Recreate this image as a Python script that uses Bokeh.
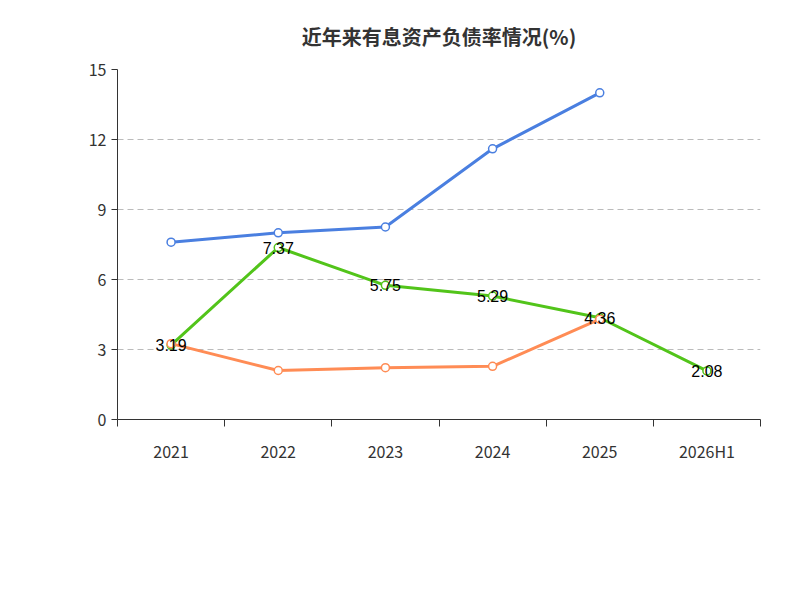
from bokeh.plotting import figure
from bokeh.models import FixedTicker, Legend, LegendItem, Label, Title, ColumnDataSource
from bokeh.embed import file_html
from bokeh.resources import INLINE

years = ["2021", "2022", "2023", "2024", "2025", "2026H1"]
company = [3.19, 7.37, 5.75, 5.29, 4.36, 2.08]
industry_avg = [7.6, 8.0, 8.25, 11.6, 14.0]
industry_median = [3.25, 2.1, 2.22, 2.28, 4.3]

FONT = "Noto Sans CJK SC"
xs = list(range(len(years)))

p = figure(frame_width=643, frame_height=350, output_backend="svg", toolbar_location=None,
           x_range=(-0.5, len(years) - 0.5), y_range=(0, 15),
           min_border_left=117, min_border_right=24, min_border_top=0, min_border_bottom=0)
p.title.text = "近年来有息资产负债率情况(%)"
p.title.align = "center"
p.title.text_font = FONT
p.title.text_font_size = "15pt"
p.title.text_font_style = "bold"
p.title.text_color = "#333333"
p.title.standoff = 38
p.outline_line_color = None

p.xaxis.ticker = FixedTicker(ticks=xs, minor_ticks=[x - 0.5 for x in xs] + [len(years) - 0.5])
p.xaxis.major_label_overrides = {i: y for i, y in enumerate(years)}
p.xaxis.major_tick_line_color = None
p.xaxis.minor_tick_out = 7
p.xaxis.minor_tick_in = 0
p.xaxis.minor_tick_line_color = "#333333"
p.xaxis.axis_line_color = "#333333"
p.xaxis.major_label_text_font_size = "12pt"
p.xaxis.major_label_text_color = "#333333"
p.xaxis.major_label_standoff = 12
p.xaxis.major_label_text_font = FONT

p.yaxis.ticker = FixedTicker(ticks=[0, 3, 6, 9, 12, 15])
p.yaxis.axis_line_color = "#333333"
p.yaxis.major_tick_line_color = "#333333"
p.yaxis.major_tick_out = 6
p.yaxis.major_tick_in = 0
p.yaxis.minor_tick_line_color = None
p.yaxis.major_label_text_font_size = "12pt"
p.yaxis.major_label_text_color = "#333333"
p.yaxis.major_label_text_font = FONT
p.xgrid.grid_line_color = None
p.ygrid.grid_line_color = "#bbbbbb"
p.ygrid.grid_line_dash = "6 4"

r1l = p.line(xs, company, line_color="#52c41a", line_width=3)
r1s = p.scatter(xs, company, size=8, fill_color="white", line_color="#52c41a", line_width=1.5)
r2l = p.line(xs[:5], industry_avg, line_color="#4a7fe0", line_width=3)
r2s = p.scatter(xs[:5], industry_avg, size=8, fill_color="white", line_color="#4a7fe0", line_width=1.5)
r3l = p.line(xs[:5], industry_median, line_color="#ff8c55", line_width=3)
r3s = p.scatter(xs[:5], industry_median, size=8, fill_color="white", line_color="#ff8c55", line_width=1.5)

src = ColumnDataSource(dict(x=xs, y=company, t=[f"{v:.2f}" for v in company]))
p.text(x="x", y="y", text="t", source=src, text_align="center", text_baseline="middle",
       text_font_size="12pt", text_color="black")

p.add_layout(Label(x=-62, y=310, x_units="screen", y_units="screen", text="(%)",
                   angle=1.5708, text_color="red", text_font_size="10pt", text_font=FONT))

legend = Legend(items=[LegendItem(label="有息资产负债率", renderers=[r1l, r1s]),
                       LegendItem(label="行业均值", renderers=[r2l, r2s]),
                       LegendItem(label="行业中位数", renderers=[r3l, r3s])],
                orientation="horizontal", location="center", border_line_color=None,
                label_text_font=FONT, label_text_font_size="12pt", label_text_color="#333333",
                glyph_width=50, spacing=20, margin=0, padding=18)
p.add_layout(legend, "below")
p.add_layout(Title(text="制图数据来自恒生聚源数据库", align="center", text_color="#c8961e",
                   text_font=FONT, text_font_size="10pt", text_font_style="normal", standoff=12), "below")

open("out.html", "w").write(file_html(p, INLINE))
